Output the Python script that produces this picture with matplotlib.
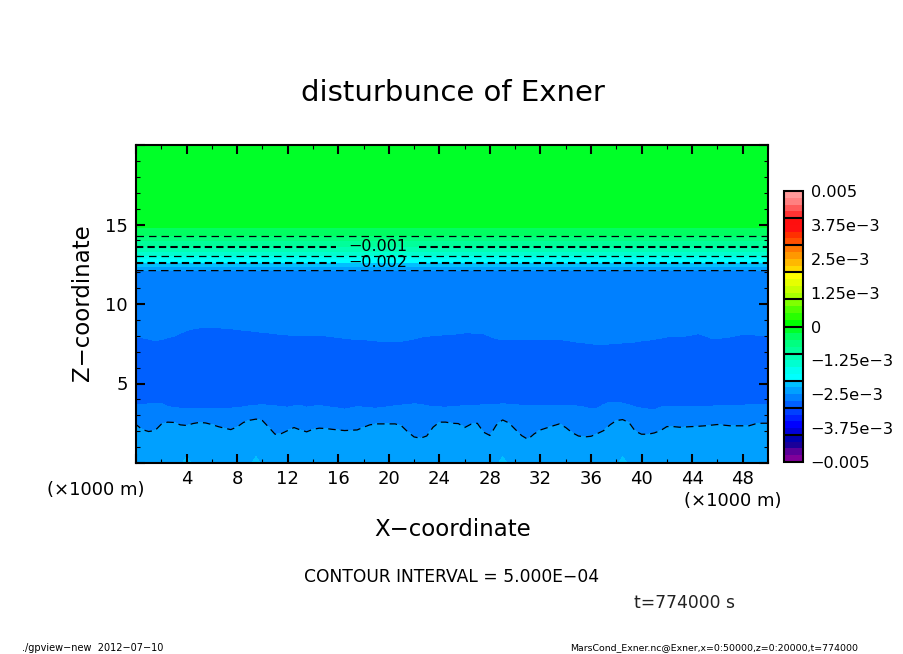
import numpy as np
import matplotlib
matplotlib.use("Agg")
import matplotlib.pyplot as plt
from matplotlib.ticker import MultipleLocator, FuncFormatter

# column positions (x 1000 m), 0.5 spacing
x_km = np.arange(0, 50.5, 0.5)

# height of the -0.0025 contour (wavy line near the ground)
z_m25 = [2.42,2.10,1.98,2.04,2.44,2.57,2.55,2.40,2.36,2.48,2.55,2.52,2.42,2.29,2.19,2.10,2.27,2.55,2.69,2.76,
         2.67,2.25,1.81,1.85,2.04,2.23,2.08,1.96,2.12,2.19,2.17,2.12,2.08,2.04,2.06,2.08,2.25,2.40,2.46,2.46,
         2.46,2.46,2.34,1.96,1.64,1.56,1.70,2.25,2.57,2.57,
         2.50,2.48,2.23,2.44,2.50,1.94,1.73,2.38,2.71,2.52,2.12,1.73,1.49,1.83,2.08,2.21,2.34,2.46,2.23,1.91,
         1.70,1.64,1.68,1.85,2.04,2.40,2.67,2.73,2.55,2.00,1.81,1.81,1.89,2.04,2.29,2.29,2.25,2.27,2.29,2.31,
         2.34,2.38,2.42,2.38,2.34,2.34,2.34,2.34,2.46,2.50,2.50]

# height of the lower edge of the darkest blue band (-0.00275)
z_low = [3.66,3.68,3.72,3.74,3.74,3.55,3.49,3.45,3.45,3.45,3.45,3.45,3.45,3.45,3.45,3.45,3.49,3.53,3.60,3.64,
         3.66,3.64,3.60,3.55,3.51,3.60,3.64,3.51,3.58,3.62,3.55,3.51,3.45,3.39,3.47,3.55,3.51,3.47,3.45,3.49,
         3.55,3.60,3.64,3.68,3.72,3.70,3.60,3.55,3.53,3.51,
         3.55,3.58,3.60,3.62,3.64,3.66,3.68,3.70,3.72,3.70,3.66,3.64,3.64,3.62,3.62,3.60,3.60,3.60,3.60,3.60,
         3.58,3.51,3.41,3.45,3.68,3.83,3.81,3.77,3.66,3.53,3.45,3.39,3.34,3.51,3.58,3.55,3.55,3.55,3.55,3.55,
         3.55,3.58,3.60,3.62,3.64,3.64,3.64,3.66,3.66,3.66,3.66]

# height of the upper edge of the darkest blue band (-0.00275)
z_up = [7.91,7.87,7.80,7.70,7.76,7.87,7.97,8.16,8.33,8.43,8.50,8.52,8.52,8.50,8.48,8.45,8.39,8.35,8.31,8.26,
        8.22,8.18,8.12,8.10,8.05,8.03,8.01,8.01,8.01,8.01,7.99,7.95,7.89,7.84,7.80,7.78,7.76,7.72,7.68,7.63,
        7.63,7.63,7.66,7.72,7.80,7.91,7.97,8.01,8.03,8.08,
        8.08,8.14,8.18,8.18,8.14,8.12,7.97,7.82,7.76,7.76,7.76,7.76,7.76,7.76,7.76,7.76,7.76,7.76,7.72,7.66,
        7.59,7.55,7.51,7.45,7.45,7.49,7.53,7.55,7.57,7.61,7.68,7.72,7.78,7.84,7.93,7.95,7.95,7.99,8.05,8.14,
        8.01,7.84,7.84,7.87,7.93,8.01,8.08,8.08,8.05,8.01,8.01]

# flat upper part of the field: height and value of each row
z_flat = [12.1,12.35,12.6,12.8,13.0,13.3,13.6,13.95,14.3,14.8,20.0]
v_flat = [-0.0025,-0.00225,-0.002,-0.00175,-0.0015,-0.00125,-0.001,-0.00075,-0.0005,-0.00025,-0.0001]

# field values of the low rows
v_ground = -0.00235
v_low_row = -0.0024
v_wave = -0.0025
v_band = -0.00275
v_core = -0.0029
patch_x = [4.0, 9.5, 29.0, 38.5]
v_patch = -0.00205

levels = np.arange(-0.005, 0.005 + 1e-9, 0.00025)
shades = ["#800099","#5A0099","#1A0099","#0000B0",
          "#0000D8","#0000FF","#0020FF","#0040FF",
          "#0060FF","#0080FF","#00A0FF","#00C0FF",
          "#00FFFF","#00FFF0","#00FFD0","#00FFB4",
          "#00FF9A","#00FF80","#00FF60","#00FF28",
          "#00FF00","#28FF00","#50FF00","#80FF00",
          "#A8FF00","#C8FF00","#E6FF00","#FFFF00",
          "#FFD800","#FFB800","#FF9800","#FF7800",
          "#FF5000","#FF3000","#FF1010","#FF0F0F",
          "#FF3333","#FF5A5A","#FF8080","#FF9999"]
cbar_labels = ["\u22120.005","\u22123.75e\u22123","\u22122.5e\u22123","\u22121.25e\u22123","0",
               "1.25e\u22123","2.5e\u22123","3.75e\u22123","0.005"]
cbar_ticks = np.linspace(-0.005, 0.005, 9)

n = len(x_km)
rows_z = [np.zeros(n), np.full(n, 0.7), np.array(z_m25), np.array(z_low),
          (np.array(z_low) + np.array(z_up)) / 2, np.array(z_up)] + [np.full(n, z) for z in z_flat]
ground = np.where(np.isin(x_km, patch_x), v_patch, v_ground)
rows_v = [ground, np.full(n, v_low_row), np.full(n, v_wave), np.full(n, v_band),
          np.full(n, v_core), np.full(n, v_band)] + [np.full(n, v) for v in v_flat]
Z = np.array(rows_z)
V = np.array(rows_v)
X = np.tile(x_km, (Z.shape[0], 1))

W, H = 904, 654
fig = plt.figure(figsize=(W / 100, H / 100), dpi=100)
plt.rcParams['font.family'] = 'DejaVu Sans'

def box(l, t, r, b):
    return [l / W, 1 - b / H, (r - l) / W, (b - t) / H]

ax = fig.add_axes(box(136, 145, 768, 463))
cf = ax.contourf(X, Z, V, levels=levels, colors=shades, antialiased=False)
thin = ax.contour(X, Z, V, levels=[-0.0025, -0.0015, -0.0005], colors='k',
                  linewidths=0.9, linestyles=[(0, (6, 4))])
bold = ax.contour(X, Z, V, levels=[-0.002, -0.001], colors='k',
                  linewidths=1.5, linestyles=[(0, (3.5, 2))])
ax.clabel(bold, levels=[-0.002, -0.001], fmt={-0.002: "\u22120.002", -0.001: "\u22120.001"},
          manual=[(19.1, 12.6), (19.1, 13.6)], fontsize=11.5, inline=True, inline_spacing=12)
ax.set_xlim(0, 50)
ax.set_ylim(0, 20)
ax.xaxis.set_major_locator(MultipleLocator(4))
ax.xaxis.set_minor_locator(MultipleLocator(2))
ax.yaxis.set_major_locator(MultipleLocator(5))
ax.yaxis.set_minor_locator(MultipleLocator(1))
ax.xaxis.set_major_formatter(FuncFormatter(lambda v, p: "" if v == 0 else f"{v:.0f}"))
ax.yaxis.set_major_formatter(FuncFormatter(lambda v, p: "" if v in (0, 20) else f"{v:.0f}"))
ax.tick_params(which='major', direction='in', length=6.5, width=1.5, top=True, right=True,
               labelsize=13)
ax.tick_params(axis='x', which='major', pad=5)
ax.tick_params(axis='y', which='major', pad=6)
ax.tick_params(which='minor', direction='in', length=3.2, width=0.8, top=True, right=True)
for s in ax.spines.values():
    s.set_linewidth(1.5)

cax = fig.add_axes(box(784, 191, 803, 462))
cb = fig.colorbar(cf, cax=cax, spacing='proportional')
cb.set_ticks(cbar_ticks)
cb.set_ticklabels(cbar_labels)
cb.minorticks_off()
cb.ax.tick_params(length=0, labelsize=11.6, pad=5.5)
cb.outline.set_linewidth(1.5)
cb.ax.hlines(np.arange(-0.004, 0.0045, 0.001), 0, 1, colors='k', linewidth=1.5,
             transform=cb.ax.get_yaxis_transform())

def label(px, py, s, size, ha='center', rot=0, **kw):
    fig.text(px / W, 1 - py / H, s, fontsize=size, ha=ha, va='center', rotation=rot, **kw)

label(453, 93, "disturbunce of Exner", 21)
label(453, 529, "X\u2212coordinate", 16.5)
label(83, 303, "Z\u2212coordinate", 16.5, rot=90)
label(96, 490, "(\u00d71000 m)", 13)
label(733, 501, "(\u00d71000 m)", 13)
label(452, 577, "CONTOUR INTERVAL = 5.000E\u221204", 12.3)
label(685, 603, "t=774000 s", 12.3, color='#222222')
label(22, 648, "./gpview\u2212new  2012\u221207\u221210", 7, ha='left')
label(570, 648, "MarsCond_Exner.nc@Exner,x=0:50000,z=0:20000,t=774000", 6.75, ha='left')

fig.savefig("out.png", dpi=100)
